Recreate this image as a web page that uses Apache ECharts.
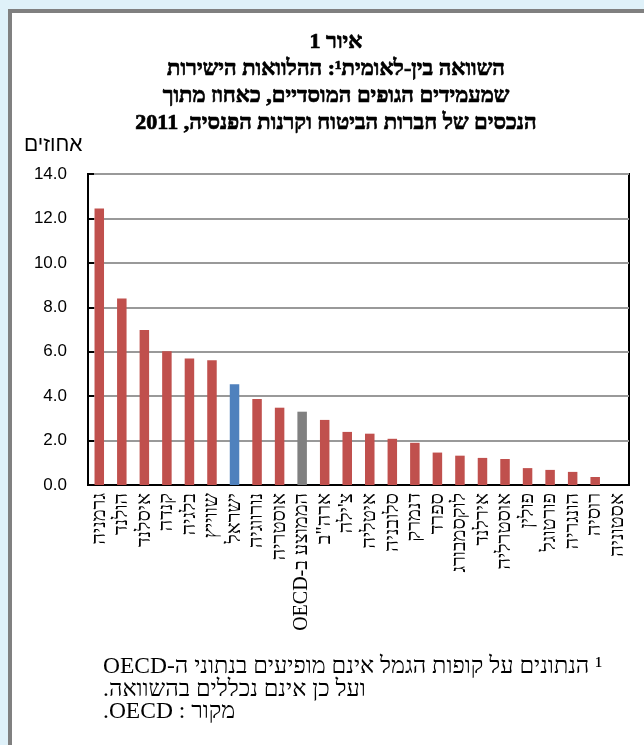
<!DOCTYPE html>
<html>
<head>
<meta charset="utf-8">
<script src="https://cdn.jsdelivr.net/npm/echarts@6/dist/echarts.min.js"></script>
<style>
html,body{margin:0;padding:0;background:#dff1f9;}
#chart{width:644px;height:745px;direction:rtl;}
</style>
</head>
<body>
<div id="chart" dir="rtl"></div>
<script>
var categories = ['גרמניה','הולנד','איסלנד','קנדה','בלגיה','שווייץ','ישראל','נורווגיה','אוסטריה','הממוצע ב-OECD','ארה"ב',"צ'ילה",'איטליה','סלובניה','דנמרק','ספרד','לוקסמבורג','אירלנד','אוסטרליה','פולין','פורטוגל','הונגריה','רוסיה','אסטוניה'];
var values = [12.45, 8.4, 6.98, 6.02, 5.7, 5.62, 4.54, 3.87, 3.48, 3.3, 2.93, 2.39, 2.31, 2.08, 1.9, 1.46, 1.32, 1.22, 1.17, 0.76, 0.68, 0.59, 0.36, 0];
var highlight = {'ישראל':'#4f81bd','הממוצע ב-OECD':'#808080'};
var yTicks = {min:0, max:14, interval:2};
var titleLines = ['איור 1','השוואה בין-לאומית¹: ההלוואות הישירות','שמעמידים הגופים המוסדיים, כאחוז מתוך','הנכסים של חברות הביטוח וקרנות הפנסיה, 2011'];
var yUnit = 'אחוזים';
var notes = ['¹ הנתונים על קופות הגמל אינם מופיעים בנתוני ה-OECD','ועל כן אינם נכללים בהשוואה.','מקור : OECD.'];

var chart = echarts.init(document.getElementById('chart'), null, {renderer:'canvas'});
var barData = categories.map(function(c,i){
  return {value: values[i], itemStyle:{color: highlight[c] || '#c0504d'}};
});
var graphics = [
  {type:'rect', shape:{x:10,y:11,width:700,height:800}, style:{fill:'#fff',stroke:'#808080',lineWidth:4}, z:-10}
];
titleLines.forEach(function(t,i){
  graphics.push({type:'text', x:336, y:42+i*27, style:{text:t, fill:'#000', stroke:'#000', lineWidth:0.7, font:'bold 22px "Liberation Serif"', textAlign:'center', textVerticalAlign:'middle'}});
});
graphics.push({type:'text', x:24, y:145, style:{text:yUnit, fill:'#000', font:'21px "Liberation Sans"', textAlign:'left', textVerticalAlign:'middle'}});
notes.forEach(function(t,i){
  graphics.push({type:'text', x:103, y:667+i*22.5, style:{text:t, fill:'#000', font:'23.5px "Liberation Serif"', textAlign:'left', textVerticalAlign:'middle'}});
});

chart.setOption({
  backgroundColor:'#dff1f9',
  animation:false,
  graphic: graphics,
  grid:{left:88, right:15, top:174, bottom:260, show:true, borderColor:'#000', borderWidth:2, backgroundColor:'transparent', containLabel:false},
  xAxis:{
    type:'category', data:categories,
    axisLine:{lineStyle:{color:'#000', width:2}},
    axisTick:{inside:true, length:5, lineStyle:{color:'#000', width:2}},
    axisLabel:{interval:0, rotate:90, margin:8, color:'#000', fontFamily:'Liberation Serif', fontSize:20}
  },
  yAxis:{
    type:'value', min:yTicks.min, max:yTicks.max, interval:yTicks.interval,
    axisLine:{show:true, lineStyle:{color:'#000', width:2}},
    axisTick:{show:true, inside:true, length:6, lineStyle:{color:'#000', width:2}},
    axisLabel:{margin:21, color:'#000', fontFamily:'Liberation Sans', fontSize:17, formatter:function(v){return v.toFixed(1);}},
    splitLine:{lineStyle:{color:'#999', width:2}}
  },
  series:[{type:'bar', data:barData, barWidth:9.5}]
});
</script>
</body>
</html>
